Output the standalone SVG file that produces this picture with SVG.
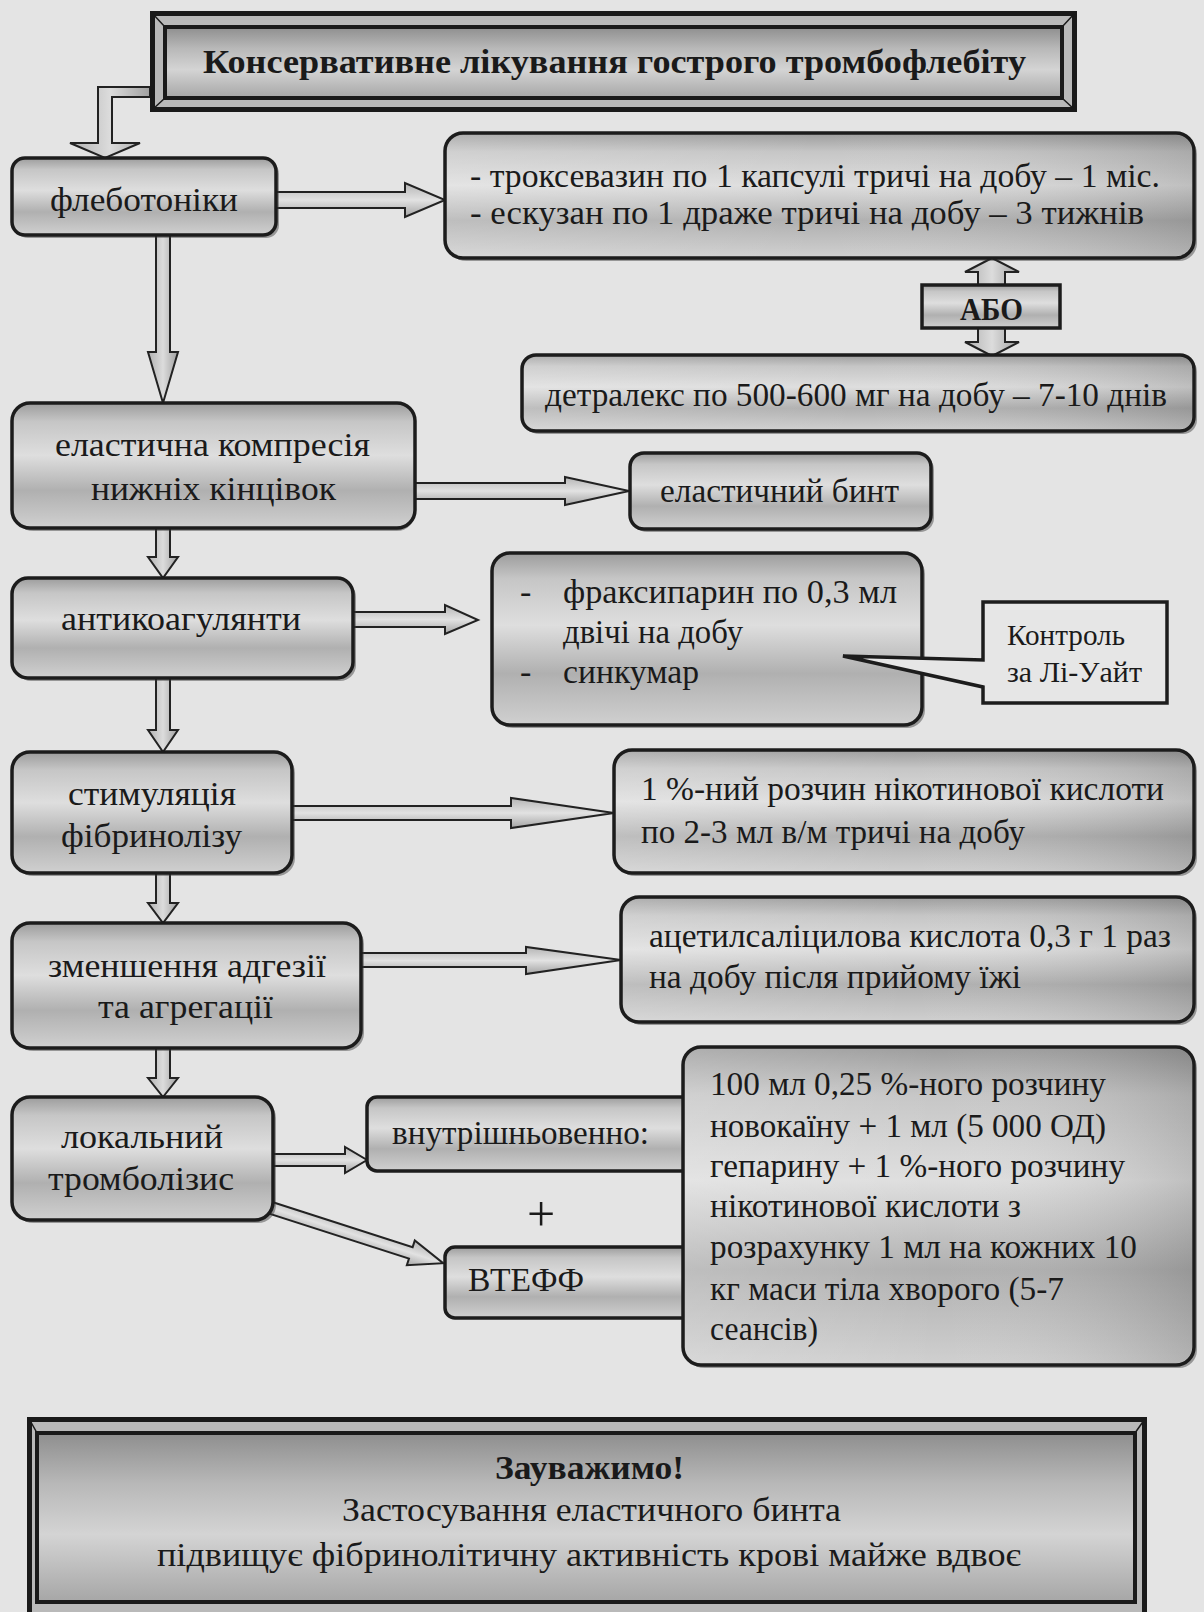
<svg xmlns="http://www.w3.org/2000/svg" width="1204" height="1612" viewBox="0 0 1204 1612">
<defs>
<linearGradient id="boxg" x1="0" y1="0" x2="0" y2="1">
<stop offset="0" stop-color="#9c9c9c"/>
<stop offset="0.15" stop-color="#c6c6c6"/>
<stop offset="0.42" stop-color="#dedede"/>
<stop offset="0.7" stop-color="#b0b0b0"/>
<stop offset="1" stop-color="#d0d0d0"/>
</linearGradient>
<linearGradient id="boxh" x1="0" y1="0" x2="1" y2="0">
<stop offset="0" stop-color="#ffffff" stop-opacity="0.18"/>
<stop offset="0.5" stop-color="#ffffff" stop-opacity="0"/>
<stop offset="1" stop-color="#000000" stop-opacity="0.14"/>
</linearGradient>
<linearGradient id="arrg" x1="0" y1="0" x2="0" y2="1">
<stop offset="0" stop-color="#b4b4b4"/>
<stop offset="0.5" stop-color="#e2e2e2"/>
<stop offset="1" stop-color="#a4a4a4"/>
</linearGradient>
<linearGradient id="arrv" x1="0" y1="0" x2="1" y2="0">
<stop offset="0" stop-color="#b0b0b0"/>
<stop offset="0.5" stop-color="#dcdcdc"/>
<stop offset="1" stop-color="#a0a0a0"/>
</linearGradient>
<linearGradient id="frameg" x1="0" y1="0" x2="0" y2="1">
<stop offset="0" stop-color="#8e8e8e"/>
<stop offset="0.3" stop-color="#b8b8b8"/>
<stop offset="0.6" stop-color="#d4d4d4"/>
<stop offset="1" stop-color="#a6a6a6"/>
</linearGradient>
</defs>
<style>
.bg{fill:#e4e4e4}
.box{fill:url(#boxg);stroke:#1c1c1c;stroke-width:3.5}
.ov{fill:url(#boxh);stroke:none}
.sh{fill:#3a3a3a;opacity:0.45}
.t{font-family:"Liberation Serif","Times New Roman",serif;font-size:34px;fill:#1a1a1a}
.b{font-weight:bold}
.s{font-size:30px}
.arr{stroke:#222;stroke-width:2;stroke-linejoin:miter}
.ah{fill:url(#arrg)}
.av{fill:url(#arrv)}
.outer{fill:#b9b9b9;stroke:#1a1a1a;stroke-width:5}
.inner{fill:url(#frameg);stroke:#1a1a1a;stroke-width:4}
.bev{stroke:#1a1a1a;stroke-width:1.5}
.call{fill:#e6e6e6;stroke:#1c1c1c;stroke-width:3.5;stroke-linejoin:miter}
</style>
<rect class="bg" x="0" y="0" width="1204" height="1612"/>

<g id="connectors">
<path class="arr av" d="M150,87 H98 V143 H70 L105,158 L140,143 H112 V97 H150 Z"/>
<path class="arr ah" d="M276,192 H405 V183 L445,200 L405,217 V208 H276 Z"/>
<path class="arr av" d="M992,258 L1019,272 H1005 V342 H1019 L992,356 L965,342 H978 V272 H965 Z"/>
<path class="arr av" d="M156,235 V352 H148 L163,403 L178,352 H170 V235 Z"/>
<path class="arr ah" d="M415,483 H565 V477 L629,491 L565,505 V499 H415 Z"/>
<path class="arr av" d="M156,528 V557 H148 L163,578 L178,557 H170 V528 Z"/>
<path class="arr ah" d="M353,612 H445 V605 L478,620 L445,634 V627 H353 Z"/>
<path class="arr av" d="M156,678 V730 H148 L163,752 L178,730 H170 V678 Z"/>
<path class="arr ah" d="M292,806 H511 V798 L614,813 L511,828 V820 H292 Z"/>
<path class="arr av" d="M156,873 V903 H148 L163,923 L178,903 H170 V873 Z"/>
<path class="arr ah" d="M361,953 H526 V947 L621,960 L526,974 V967 H361 Z"/>
<path class="arr av" d="M156,1048 V1078 H148 L163,1097 L178,1078 H170 V1048 Z"/>
<path class="arr ah" d="M273,1154 H345 V1147 L367,1160 L345,1173 V1166 H273 Z"/>
<path class="arr ah" transform="translate(268,1207) rotate(17.8)" d="M0,-6 H150 V-13 L184,0 L150,13 V6 H0 Z"/>
</g>

<g id="title">
<rect class="outer" x="152.5" y="13.5" width="922" height="96"/>
<rect class="inner" x="165" y="27" width="897" height="71"/>
<path class="bev" d="M152.5,13.5 L165,27 M1074.5,13.5 L1062,27 M152.5,109.5 L165,98 M1074.5,109.5 L1062,98" fill="none"/>
<text class="t b" x="203" y="73" textLength="823" lengthAdjust="spacingAndGlyphs">Консервативне лікування гострого тромбофлебіту</text>
</g>

<g id="n-flebo">
<rect class="sh" x="15" y="161" width="264" height="77" rx="13"/>
<rect class="box" x="12" y="158" width="264" height="77" rx="13"/>
<text class="t" x="50" y="211" textLength="188" lengthAdjust="spacingAndGlyphs">флеботоніки</text>
</g>

<g id="n-trokse">
<rect class="sh" x="448" y="136" width="749" height="125" rx="18"/>
<rect class="box" x="445" y="133" width="749" height="125" rx="18"/>
<rect class="ov" x="447" y="135" width="745" height="121" rx="16"/>
<text class="t" x="470" y="187" textLength="690" lengthAdjust="spacingAndGlyphs">- троксевазин по 1 капсулі тричі на добу – 1 міс.</text>
<text class="t" x="470" y="224" textLength="674" lengthAdjust="spacingAndGlyphs">- ескузан по 1 драже тричі на добу – 3 тижнів</text>
</g>

<g id="n-abo">
<rect class="box" x="922" y="285" width="138" height="43"/>
<text class="t b" x="960" y="320" textLength="63" lengthAdjust="spacingAndGlyphs" style="font-size:31px">АБО</text>
</g>

<g id="n-detra">
<rect class="sh" x="525" y="358" width="672" height="76" rx="14"/>
<rect class="box" x="522" y="355" width="672" height="76" rx="14"/>
<rect class="ov" x="524" y="357" width="668" height="72" rx="12"/>
<text class="t" x="545" y="406" textLength="622" lengthAdjust="spacingAndGlyphs">детралекс по 500-600 мг на добу – 7-10 днів</text>
</g>

<g id="n-elast">
<rect class="sh" x="15" y="406" width="400" height="125" rx="18"/>
<rect class="box" x="12" y="403" width="403" height="125" rx="18"/>
<text class="t" x="55" y="456" textLength="315" lengthAdjust="spacingAndGlyphs">еластична компресія</text>
<text class="t" x="91" y="500" textLength="245" lengthAdjust="spacingAndGlyphs">нижніх кінцівок</text>
</g>

<g id="n-bint">
<rect class="sh" x="633" y="456" width="301" height="76" rx="14"/>
<rect class="box" x="630" y="453" width="301" height="76" rx="14"/>
<text class="t" x="660" y="502" textLength="239" lengthAdjust="spacingAndGlyphs">еластичний бинт</text>
</g>

<g id="n-antik">
<rect class="sh" x="15" y="581" width="341" height="100" rx="16"/>
<rect class="box" x="12" y="578" width="341" height="100" rx="16"/>
<text class="t" x="61" y="630" textLength="240" lengthAdjust="spacingAndGlyphs">антикоагулянти</text>
</g>

<g id="n-fraks">
<rect class="sh" x="495" y="556" width="430" height="172" rx="18"/>
<rect class="box" x="492" y="553" width="430" height="172" rx="18"/>
<text class="t" x="520" y="603">-</text>
<text class="t" x="563" y="603" textLength="334" lengthAdjust="spacingAndGlyphs">фраксипарин по 0,3 мл</text>
<text class="t" x="563" y="643" textLength="180" lengthAdjust="spacingAndGlyphs">двічі на добу</text>
<text class="t" x="520" y="683">-</text>
<text class="t" x="563" y="683" textLength="136" lengthAdjust="spacingAndGlyphs">синкумар</text>
</g>

<g id="n-control">
<path class="call" d="M983,602 H1167 V703 H983 V687 L843,656 L983,660 Z"/>
<text class="t s" x="1007" y="645" textLength="118" lengthAdjust="spacingAndGlyphs">Контроль</text>
<text class="t s" x="1007" y="682" textLength="135" lengthAdjust="spacingAndGlyphs">за Лі-Уайт</text>
</g>

<g id="n-stim">
<rect class="sh" x="15" y="755" width="280" height="121" rx="18"/>
<rect class="box" x="12" y="752" width="280" height="121" rx="18"/>
<text class="t" x="68" y="805" textLength="168" lengthAdjust="spacingAndGlyphs">стимуляція</text>
<text class="t" x="61" y="847" textLength="181" lengthAdjust="spacingAndGlyphs">фібринолізу</text>
</g>

<g id="n-nikot">
<rect class="sh" x="617" y="753" width="580" height="123" rx="18"/>
<rect class="box" x="614" y="750" width="580" height="123" rx="18"/>
<rect class="ov" x="616" y="752" width="576" height="119" rx="16"/>
<text class="t" x="641" y="800" textLength="523" lengthAdjust="spacingAndGlyphs">1 %-ний розчин нікотинової кислоти</text>
<text class="t" x="641" y="843" textLength="384" lengthAdjust="spacingAndGlyphs">по 2-3 мл в/м тричі на добу</text>
</g>

<g id="n-zmen">
<rect class="sh" x="15" y="926" width="349" height="125" rx="18"/>
<rect class="box" x="12" y="923" width="349" height="125" rx="18"/>
<text class="t" x="48" y="977" textLength="278" lengthAdjust="spacingAndGlyphs">зменшення адгезії</text>
<text class="t" x="98" y="1018" textLength="175" lengthAdjust="spacingAndGlyphs">та агрегації</text>
</g>

<g id="n-acet">
<rect class="sh" x="624" y="900" width="573" height="125" rx="18"/>
<rect class="box" x="621" y="897" width="573" height="125" rx="18"/>
<rect class="ov" x="623" y="899" width="569" height="121" rx="16"/>
<text class="t" x="649" y="947" textLength="522" lengthAdjust="spacingAndGlyphs">ацетилсаліцилова кислота 0,3 г 1 раз</text>
<text class="t" x="649" y="988" textLength="372" lengthAdjust="spacingAndGlyphs">на добу після прийому їжі</text>
</g>

<g id="n-lokal">
<rect class="sh" x="15" y="1100" width="261" height="123" rx="18"/>
<rect class="box" x="12" y="1097" width="261" height="123" rx="18"/>
<text class="t" x="61" y="1148" textLength="162" lengthAdjust="spacingAndGlyphs">локальний</text>
<text class="t" x="48" y="1190" textLength="186" lengthAdjust="spacingAndGlyphs">тромболізис</text>
</g>

<g id="n-vnutr">
<rect class="box" x="367" y="1097" width="330" height="74" rx="10"/>
<text class="t" x="392" y="1144" textLength="257" lengthAdjust="spacingAndGlyphs">внутрішньовенно:</text>
</g>

<g id="n-plus">
<text class="t" x="541" y="1231" text-anchor="middle" style="font-size:50px">+</text>
</g>

<g id="n-vteff">
<rect class="box" x="445" y="1247" width="250" height="71" rx="10"/>
<text class="t" x="468" y="1291" textLength="116" lengthAdjust="spacingAndGlyphs">ВТЕФФ</text>
</g>

<g id="n-novok">
<rect class="sh" x="686" y="1050" width="511" height="318" rx="18"/>
<rect class="box" x="683" y="1047" width="511" height="318" rx="18"/>
<rect class="ov" x="685" y="1049" width="507" height="314" rx="16"/>
<text class="t" x="710" y="1095" textLength="396" lengthAdjust="spacingAndGlyphs">100 мл 0,25 %-ного розчину</text>
<text class="t" x="710" y="1137" textLength="396" lengthAdjust="spacingAndGlyphs">новокаїну + 1 мл (5 000 ОД)</text>
<text class="t" x="710" y="1177" textLength="415" lengthAdjust="spacingAndGlyphs">гепарину + 1 %-ного розчину</text>
<text class="t" x="710" y="1217" textLength="311" lengthAdjust="spacingAndGlyphs">нікотинової кислоти з</text>
<text class="t" x="710" y="1258" textLength="427" lengthAdjust="spacingAndGlyphs">розрахунку 1 мл на кожних 10</text>
<text class="t" x="710" y="1300" textLength="354" lengthAdjust="spacingAndGlyphs">кг маси тіла хворого (5-7</text>
<text class="t" x="710" y="1340" textLength="108" lengthAdjust="spacingAndGlyphs">сеансів)</text>
</g>

<g id="note">
<rect class="outer" x="29.5" y="1419.5" width="1115" height="200"/>
<rect class="inner" x="37" y="1433" width="1098" height="169"/>
<path class="bev" d="M29.5,1419.5 L37,1433 M1144.5,1419.5 L1135,1433" fill="none"/>
<text class="t b" x="495" y="1479" textLength="189" lengthAdjust="spacingAndGlyphs">Зауважимо!</text>
<text class="t" x="342" y="1521" textLength="499" lengthAdjust="spacingAndGlyphs">Застосування еластичного бинта</text>
<text class="t" x="157" y="1566" textLength="864" lengthAdjust="spacingAndGlyphs">підвищує фібринолітичну активність крові майже вдвоє</text>
</g>
</svg>
